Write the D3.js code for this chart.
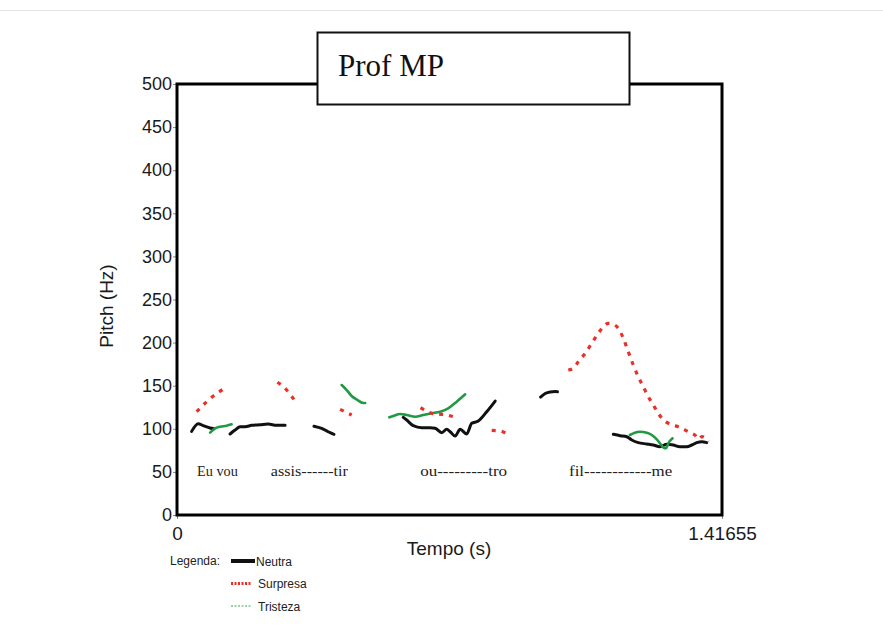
<!DOCTYPE html>
<html>
<head>
<meta charset="utf-8">
<script src="https://cdn.jsdelivr.net/npm/d3@7"></script>
<style>
  body { margin: 0; background: #fff; }
  svg { display: block; }
</style>
</head>
<body>
<script>
// pitch contours, [time (s), pitch (Hz)], one array per voiced stretch
const neutra = [
  [[0.038, 97], [0.055, 106], [0.068, 103.6], [0.086, 101], [0.096, 100]],
  [[0.138, 94], [0.151, 98.6], [0.164, 102.4], [0.177, 102.4], [0.194, 104], [0.216, 104.7], [0.237, 105.5], [0.259, 104], [0.281, 104]],
  [[0.356, 103], [0.376, 100.5], [0.393, 96.6], [0.408, 93.6]],
  [[0.588, 113.3], [0.597, 110.2], [0.614, 103.6], [0.636, 101.3], [0.658, 101.3], [0.671, 100.6], [0.688, 95.5], [0.701, 99.4], [0.710, 96.6], [0.723, 91.6], [0.736, 99.4], [0.753, 94], [0.766, 106.4], [0.783, 109], [0.805, 119.8], [0.827, 132.2]],
  [[0.945, 136.8], [0.957, 141], [0.970, 142.8], [0.983, 143.2], [0.989, 143]],
  [[1.134, 93.6], [1.152, 92], [1.169, 90.8], [1.182, 87], [1.199, 83.9], [1.221, 82.4], [1.238, 81.2], [1.255, 79.2], [1.273, 82], [1.290, 81.2], [1.307, 79.2], [1.325, 79.2], [1.338, 81.2], [1.351, 83.9], [1.364, 85], [1.377, 83.9]]
];

const surpresa = [
  [[0.051, 119.8], [0.077, 131.4], [0.103, 141], [0.125, 147]],
  [[0.261, 154], [0.285, 145], [0.309, 130.7]],
  [[0.424, 122.6], [0.454, 116]],
  [[0.633, 124.5], [0.662, 118], [0.697, 116.3], [0.731, 112.5]],
  [[0.818, 98.2], [0.840, 97.4], [0.858, 94.3]],
  [[1.017, 168.2], [1.030, 170.2], [1.043, 177.8], [1.061, 187.6], [1.078, 199.2], [1.095, 210.8], [1.108, 218.4], [1.121, 222.4], [1.134, 221.2], [1.147, 216.6], [1.160, 205], [1.173, 189.4], [1.186, 174], [1.199, 160.4], [1.212, 148.8], [1.225, 137.2], [1.238, 127.6], [1.251, 118], [1.264, 110.2], [1.281, 105.6], [1.307, 101.7], [1.329, 96.6], [1.346, 92.8], [1.356, 88], [1.364, 91], [1.374, 89], [1.381, 85]]
];

const tristeza = [
  [[0.086, 95.5], [0.099, 100.6], [0.112, 102.4], [0.129, 103.6], [0.142, 105.2]],
  [[0.428, 150.8], [0.441, 145], [0.454, 138], [0.467, 134], [0.484, 130], [0.489, 130]],
  [[0.552, 113.3], [0.562, 114.8], [0.580, 117.2], [0.597, 116], [0.619, 114], [0.640, 116], [0.662, 118], [0.684, 119.8], [0.705, 123.7], [0.727, 131.4], [0.749, 140]],
  [[1.177, 92.8], [1.190, 95.5], [1.203, 96.6], [1.221, 95.5], [1.234, 92.8], [1.247, 87.8], [1.255, 83.2], [1.264, 78.5], [1.271, 77.4], [1.277, 83.2], [1.288, 89]]
];

// syllable labels under the contours
const syllables = ["Eu vou", "assis------tir", "ou---------tro", "fil------------me"];
const syllableStart = [0.052, 0.244, 0.632, 1.019];
const syllableEnd = [0.158, 0.444, 0.858, 1.287];

const yTicks = [0, 50, 100, 150, 200, 250, 300, 350, 400, 450, 500];
const xTicks = [0, 1.41655];

const legendNames = ["Neutra", "Surpresa", "Tristeza"];

const W = 883, H = 643;
const plot = {left: 177, top: 84, right: 722, bottom: 515};

const x = d3.scaleLinear().domain([0, 1.41655]).range([plot.left, plot.right]);
const y = d3.scaleLinear().domain([0, 500]).range([plot.bottom, plot.top]);

const svg = d3.select("body").append("svg")
  .attr("width", W)
  .attr("height", H);

svg.append("rect").attr("width", W).attr("height", H).attr("fill", "#fff");
svg.append("line")
  .attr("x1", 0).attr("x2", W).attr("y1", 10.5).attr("y2", 10.5)
  .attr("stroke", "#e4e4e4");

// axes (ticks + labels only, frame is drawn separately)
const yAxis = svg.append("g")
  .attr("transform", `translate(${plot.left},0)`)
  .call(d3.axisLeft(y).tickValues(yTicks).tickSize(4).tickPadding(1).tickFormat(d3.format("d")));
yAxis.select(".domain").remove();
yAxis.selectAll("line").attr("stroke", "#888");
yAxis.selectAll("text").attr("font-family", "Liberation Sans, Arial, sans-serif").attr("font-size", 18).attr("fill", "#1a1a1a");

const xAxis = svg.append("g")
  .attr("transform", `translate(0,${plot.bottom})`)
  .call(d3.axisBottom(x).tickValues(xTicks).tickSize(4).tickPadding(8).tickFormat(d => d === 0 ? "0" : "1.41655"));
xAxis.select(".domain").remove();
xAxis.selectAll("line").attr("stroke", "#888");
xAxis.selectAll("text").attr("font-family", "Liberation Sans, Arial, sans-serif").attr("font-size", 19).attr("fill", "#1a1a1a");

// plot frame
svg.append("rect")
  .attr("x", plot.left).attr("y", plot.top)
  .attr("width", plot.right - plot.left).attr("height", plot.bottom - plot.top)
  .attr("fill", "none").attr("stroke", "#000").attr("stroke-width", 3);

// axis titles
svg.append("text")
  .attr("transform", "translate(113,306) rotate(-90)")
  .attr("text-anchor", "middle")
  .attr("font-family", "Liberation Sans, Arial, sans-serif").attr("font-size", 19).attr("fill", "#1a1a1a")
  .text("Pitch (Hz)");

svg.append("text")
  .attr("x", 449).attr("y", 555)
  .attr("text-anchor", "middle")
  .attr("font-family", "Liberation Sans, Arial, sans-serif").attr("font-size", 19).attr("fill", "#1a1a1a")
  .text("Tempo (s)");

// contours
const line = d3.line()
  .x(d => x(d[0]))
  .y(d => y(d[1]))
  .curve(d3.curveMonotoneX);

svg.append("g").selectAll("path")
  .data(neutra).join("path")
  .attr("d", line)
  .attr("fill", "none").attr("stroke", "#111").attr("stroke-width", 3)
  .attr("stroke-linejoin", "round").attr("stroke-linecap", "round");

svg.append("g").selectAll("path")
  .data(tristeza).join("path")
  .attr("d", line)
  .attr("fill", "none").attr("stroke", "#1f9a43").attr("stroke-width", 2.6)
  .attr("stroke-linejoin", "round").attr("stroke-linecap", "round");

svg.append("g").selectAll("path")
  .data(surpresa).join("path")
  .attr("d", line)
  .attr("fill", "none").attr("stroke", "#e8302b").attr("stroke-width", 3.2)
  .attr("stroke-dasharray", "4,6");

// syllable labels
svg.append("g").selectAll("text")
  .data(syllables).join("text")
  .attr("x", (d, i) => x(syllableStart[i]))
  .attr("y", y(45))
  .attr("textLength", (d, i) => x(syllableEnd[i]) - x(syllableStart[i]))
  .attr("lengthAdjust", "spacingAndGlyphs")
  .attr("font-family", "Liberation Serif, Times New Roman, serif").attr("font-size", 14).attr("fill", "#222")
  .text(d => d);

// title box
svg.append("rect")
  .attr("x", 317.5).attr("y", 32.5).attr("width", 312).attr("height", 72)
  .attr("fill", "#fff").attr("stroke", "#111").attr("stroke-width", 2);
svg.append("text")
  .attr("x", 338).attr("y", 76)
  .attr("font-family", "Liberation Serif, Times New Roman, serif").attr("font-size", 31).attr("fill", "#111")
  .text("Prof MP");

// legend
const lg = svg.append("g").attr("font-family", "Liberation Sans, Arial, sans-serif").attr("font-size", 12).attr("fill", "#222");
lg.append("text").attr("x", 170).attr("y", 565).text("Legenda:");
const legendStyle = [
  {stroke: "#111", width: 4, dash: null, x1: 231, x2: 255, tx: 256},
  {stroke: "#e8302b", width: 3, dash: "2,1.5", x1: 231, x2: 251, tx: 258},
  {stroke: "#3aa85a", width: 1.2, dash: "2,1.5", x1: 231, x2: 251, tx: 258}
];
legendNames.forEach((name, i) => {
  const s = legendStyle[i];
  const ly = 561 + i * 22.5;
  lg.append("line")
    .attr("x1", s.x1).attr("x2", s.x2).attr("y1", ly).attr("y2", ly)
    .attr("stroke", s.stroke).attr("stroke-width", s.width)
    .attr("stroke-dasharray", s.dash);
  lg.append("text").attr("x", s.tx).attr("y", ly + 4.5).text(name);
});
</script>
</body>
</html>
